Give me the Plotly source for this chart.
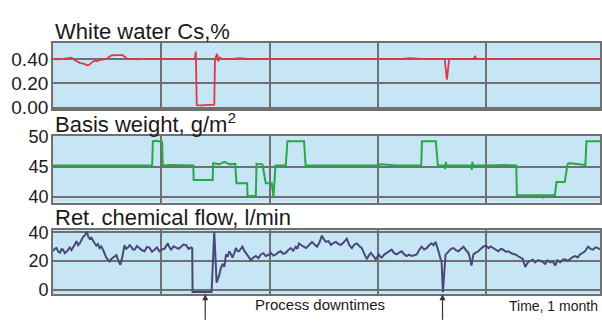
import plotly.graph_objects as go

# ---------------- data (time in days over one month) ----------------
# White water consistency, %
cs_points = [
    (0.0, 0.40), (0.3, 0.395), (0.6, 0.40), (0.9, 0.405), (1.05, 0.41), (1.2, 0.39),
    (1.35, 0.375), (1.49, 0.367), (1.7, 0.36), (1.93, 0.346), (2.05, 0.355), (2.21, 0.377),
    (2.35, 0.385), (2.45, 0.38), (2.59, 0.39), (2.75, 0.395), (2.98, 0.40), (3.1, 0.415),
    (3.26, 0.428), (3.5, 0.43), (3.7, 0.428), (3.86, 0.43), (4.0, 0.415), (4.14, 0.398),
    (4.4, 0.40), (4.7, 0.395), (5.0, 0.40), (5.3, 0.40), (5.6, 0.398), (5.9, 0.40),
    (6.2, 0.40), (6.5, 0.398), (6.8, 0.40), (7.1, 0.40), (7.4, 0.398), (7.7, 0.40),
    (7.86, 0.40), (7.92, 0.46), (7.97, 0.02), (8.2, 0.018), (8.5, 0.02), (8.94, 0.025),
    (8.98, 0.40), (9.1, 0.44), (9.16, 0.38), (9.25, 0.41), (9.35, 0.40), (9.7, 0.398),
    (10.0, 0.40), (10.3, 0.405), (10.6, 0.40), (11.0, 0.398), (11.4, 0.40), (11.8, 0.40),
    (12.2, 0.398), (12.6, 0.40), (13.0, 0.40), (13.4, 0.398), (13.8, 0.40), (14.2, 0.402),
    (14.6, 0.40), (15.0, 0.398), (15.4, 0.40), (15.8, 0.40), (16.2, 0.398), (16.6, 0.40),
    (17.0, 0.40), (17.4, 0.398), (17.8, 0.40), (18.2, 0.40), (18.6, 0.398), (19.0, 0.40),
    (19.4, 0.40), (19.8, 0.405), (20.2, 0.40), (20.6, 0.398), (21.0, 0.40), (21.4, 0.40),
    (21.7, 0.40), (21.82, 0.23), (21.95, 0.40), (22.3, 0.40), (22.7, 0.398), (23.1, 0.40),
    (23.3, 0.40), (23.38, 0.418), (23.46, 0.40), (23.9, 0.40), (24.3, 0.398), (24.7, 0.40),
    (25.1, 0.40), (25.5, 0.398), (25.9, 0.40), (26.3, 0.40), (26.7, 0.398), (27.1, 0.40),
    (27.5, 0.40), (27.9, 0.398), (28.3, 0.40), (28.7, 0.40), (29.1, 0.398), (29.5, 0.40),
    (29.9, 0.40), (30.3, 0.40),
]

# Basis weight, g/m2
bw_points = [
    (0.0, 45.2), (1.4, 45.2), (2.6, 45.3), (3.6, 45.25), (4.4, 45.2), (5.5, 45.2),
    (5.54, 49.2), (5.7, 49.3), (6.05, 49.1), (6.09, 45.2), (6.6, 45.3), (7.3, 45.2),
    (7.78, 45.2), (7.8, 42.8), (8.85, 42.8), (8.88, 45.6), (9.2, 45.4), (9.5, 45.8),
    (9.8, 45.4), (10.1, 45.5), (10.17, 42.3), (10.76, 42.3), (10.78, 40.2), (11.24, 40.2),
    (11.28, 45.5), (11.61, 45.4), (11.79, 42.3), (12.12, 42.3), (12.22, 40.1), (12.33, 45.2),
    (12.9, 45.2), (12.99, 49.2), (13.91, 49.2), (14.0, 45.2), (15.5, 45.2), (16.9, 45.3),
    (17.9, 45.2), (18.2, 45.4), (19.0, 45.2), (20.4, 45.2), (20.44, 49.2), (21.21, 49.2),
    (21.32, 45.2), (21.7, 45.2), (21.73, 44.6), (21.76, 45.8), (21.8, 45.2), (23.15, 45.2),
    (23.2, 44.5), (23.23, 45.8), (23.28, 45.2), (24.0, 45.2), (25.0, 45.3), (25.66, 45.2),
    (25.7, 40.3), (27.1, 40.3), (27.15, 39.8), (27.2, 40.3), (27.8, 40.3), (27.89, 42.5),
    (28.35, 42.5), (28.5, 45.4), (28.6, 45.6), (29.49, 45.3), (29.55, 49.2), (30.3, 49.2),
]

# Retention chemical flow, l/min
flow_points = [
    (0.0, 26.8), (0.1, 28.5), (0.2, 29.0), (0.3, 26.5), (0.39, 25.7), (0.48, 28.2),
    (0.57, 27.9), (0.66, 25.5), (0.76, 26.4), (0.85, 28.0), (0.94, 29.4), (1.03, 27.6),
    (1.12, 30.0), (1.22, 31.5), (1.31, 33.8), (1.4, 31.0), (1.49, 32.3), (1.58, 35.0),
    (1.67, 36.6), (1.78, 38.0), (1.89, 40.3), (1.96, 37.0), (2.04, 35.5), (2.13, 36.2),
    (2.22, 33.8), (2.31, 32.5), (2.41, 30.7), (2.5, 31.8), (2.59, 29.0), (2.68, 30.2),
    (2.78, 27.9), (2.87, 25.0), (2.96, 22.4), (3.05, 21.0), (3.15, 19.8), (3.24, 21.5),
    (3.33, 22.4), (3.42, 23.5), (3.52, 24.1), (3.59, 21.5), (3.66, 19.8), (3.74, 17.4),
    (3.85, 23.0), (3.97, 31.1), (4.06, 28.5), (4.16, 29.4), (4.25, 31.0), (4.34, 30.0),
    (4.43, 28.2), (4.53, 27.9), (4.66, 30.5), (4.8, 29.0), (4.94, 27.5), (5.08, 26.8),
    (5.21, 29.8), (5.35, 29.4), (5.49, 26.5), (5.63, 27.9), (5.76, 29.5), (5.9, 26.8),
    (6.04, 28.0), (6.18, 28.5), (6.28, 31.0), (6.37, 32.3), (6.46, 29.5), (6.55, 27.9),
    (6.69, 30.2), (6.83, 29.4), (6.96, 28.5), (7.1, 30.0), (7.24, 31.5), (7.38, 31.1),
    (7.52, 28.5), (7.65, 29.4), (7.72, 28.8), (7.74, -1.5), (8.79, -1.5), (8.94, 40.3),
    (9.07, 4.9), (9.15, 8.0), (9.22, 10.4), (9.3, 15.0), (9.4, 18.0), (9.5, 16.0),
    (9.59, 24.6), (9.68, 23.0), (9.77, 26.8), (9.86, 25.0), (9.95, 22.4), (10.05, 25.5),
    (10.14, 29.0), (10.23, 27.0), (10.32, 26.8), (10.41, 28.5), (10.5, 30.0), (10.6, 27.2),
    (10.69, 25.7), (10.83, 23.0), (10.97, 20.7), (11.1, 22.5), (11.24, 23.5), (11.38, 22.0),
    (11.52, 24.6), (11.66, 25.5), (11.79, 23.5), (11.93, 24.2), (12.07, 25.7), (12.21, 23.8),
    (12.35, 24.6), (12.49, 26.0), (12.62, 26.8), (12.76, 25.0), (12.9, 25.7), (13.03, 27.5),
    (13.17, 29.0), (13.31, 27.2), (13.45, 30.0), (13.54, 28.5), (13.63, 32.3), (13.82, 30.5),
    (14.02, 29.0), (14.18, 31.0), (14.35, 33.3), (14.49, 31.5), (14.63, 30.0), (14.77, 33.0),
    (14.9, 37.7), (15.01, 35.0), (15.12, 33.3), (15.26, 34.0), (15.4, 31.1), (15.53, 32.5),
    (15.67, 33.3), (15.81, 32.0), (15.95, 31.1), (16.11, 33.0), (16.28, 35.5), (16.42, 31.0),
    (16.56, 29.0), (16.7, 31.5), (16.83, 32.3), (16.97, 30.5), (17.11, 29.0), (17.25, 25.0),
    (17.39, 21.3), (17.5, 24.0), (17.61, 25.7), (17.75, 23.5), (17.88, 21.3), (17.97, 23.0),
    (18.05, 24.6), (18.13, 23.2), (18.21, 22.4), (18.35, 24.5), (18.49, 25.7), (18.62, 26.5),
    (18.76, 27.9), (18.9, 25.5), (19.04, 24.6), (19.18, 25.8), (19.32, 26.8), (19.45, 24.8),
    (19.59, 23.5), (19.73, 24.5), (19.87, 23.5), (20.01, 24.0), (20.15, 24.6), (20.28, 27.5),
    (20.42, 30.0), (20.56, 28.0), (20.7, 29.0), (20.83, 30.8), (20.97, 32.3), (21.08, 31.0),
    (21.19, 33.3), (21.28, 30.0), (21.36, 26.8), (21.45, 23.0), (21.53, 19.1), (21.6, -1.6),
    (21.68, 12.0), (21.75, 24.6), (21.83, 25.5), (21.91, 26.8), (22.05, 28.5), (22.19, 29.0),
    (22.32, 27.5), (22.46, 26.8), (22.6, 28.5), (22.74, 30.0), (22.88, 27.5), (23.01, 25.7),
    (23.1, 22.0), (23.18, 16.9), (23.24, 21.0), (23.29, 24.6), (23.42, 25.8), (23.56, 26.8),
    (23.7, 28.5), (23.84, 30.0), (23.98, 30.8), (24.12, 29.0), (24.25, 30.2), (24.39, 29.0),
    (24.53, 27.5), (24.67, 26.8), (24.81, 28.5), (24.95, 27.9), (25.08, 26.5), (25.22, 26.8),
    (25.42, 25.2), (25.61, 24.6), (25.75, 23.5), (25.88, 22.4), (26.02, 21.5), (26.16, 15.9),
    (26.3, 19.0), (26.44, 20.2), (26.58, 21.0), (26.71, 19.1), (26.85, 20.5), (26.99, 20.2),
    (27.12, 19.5), (27.26, 18.0), (27.4, 20.5), (27.54, 19.1), (27.68, 19.8), (27.82, 16.9),
    (27.95, 20.5), (28.09, 19.1), (28.23, 21.0), (28.37, 21.3), (28.5, 20.2), (28.64, 21.3),
    (28.78, 22.8), (28.92, 23.5), (29.06, 22.5), (29.2, 24.6), (29.33, 25.5), (29.47, 26.8),
    (29.56, 28.5), (29.64, 30.0), (29.78, 28.5), (29.91, 27.9), (30.05, 29.5), (30.19, 29.0),
    (30.3, 28.0),
]

downtimes = [8.44, 21.58]

titles = ["White water Cs,%", "Basis weight, g/m<sup>2</sup>", "Ret. chemical flow, l/min"]
cs_ticks = [0.0, 0.2, 0.4]
cs_ticktext = ["0.00", "0.20", "0.40"]
bw_ticks = [40, 45, 50]
flow_ticks = [0, 20, 40]
time_grid = [6, 12, 18, 24]

# ---------------- styling ----------------
W, H = 602, 323
LEFT = 53
BG = "#c6e6f6"
GRID = "#707070"
FONT = "Liberation Sans, Arial, sans-serif"
TXT = "#1a1a1a"

def ydom(top_px, bot_px):
    return [1 - bot_px / H, 1 - top_px / H]

fig = go.Figure()
fig.add_trace(go.Scatter(x=[p[0] for p in cs_points], y=[p[1] for p in cs_points],
                         mode="lines", line=dict(color="#e2354a", width=1.8),
                         xaxis="x", yaxis="y"))
fig.add_trace(go.Scatter(x=[p[0] for p in bw_points], y=[p[1] for p in bw_points],
                         mode="lines", line=dict(color="#27a844", width=2),
                         xaxis="x2", yaxis="y2"))
fig.add_trace(go.Scatter(x=[p[0] for p in flow_points], y=[p[1] for p in flow_points],
                         mode="lines", line=dict(color="#4a4878", width=2),
                         xaxis="x3", yaxis="y3"))

xcommon = dict(domain=[LEFT / W, 1], range=[0, 30.3], tickvals=time_grid,
               showticklabels=False, showgrid=True, gridcolor=GRID, gridwidth=1.5,
               showline=True, mirror=True, linecolor=GRID, linewidth=1.5,
               zeroline=False, ticks="", fixedrange=True)
ycommon = dict(showgrid=True, gridcolor=GRID, gridwidth=1.5, showline=True, mirror=True,
               linecolor=GRID, linewidth=1.5, zeroline=False, ticks="",
               ticklabelstandoff=-1, fixedrange=True)

fig.update_layout(
    width=W, height=H, margin=dict(l=0, r=0, t=0, b=0),
    paper_bgcolor="white", plot_bgcolor=BG, showlegend=False,
    font=dict(family=FONT, color=TXT),
    xaxis=dict(xcommon, anchor="y"),
    xaxis2=dict(xcommon, anchor="y2"),
    xaxis3=dict(xcommon, anchor="y3"),
    yaxis=dict(ycommon, domain=ydom(36, 106), range=[-0.012, 0.53], tickvals=cs_ticks,
               ticktext=cs_ticktext, tickfont=dict(size=19, family=FONT, color=TXT),
               anchor="x"),
    yaxis2=dict(ycommon, domain=ydom(134, 205), range=[39.1, 50.15], tickvals=bw_ticks,
                tickfont=dict(size=18, family=FONT, color=TXT), anchor="x2"),
    yaxis3=dict(ycommon, domain=ydom(234, 302), range=[-3, 41.6], tickvals=flow_ticks,
                tickfont=dict(size=18, family=FONT, color=TXT), anchor="x3"),
)

title_y = [24, 121, 221]
for t, yp in zip(titles, title_y):
    fig.add_annotation(text=t, xref="paper", yref="paper", x=LEFT / W, y=1 - yp / H,
                       xanchor="left", yanchor="middle", showarrow=False,
                       font=dict(size=22, family=FONT, color=TXT))

for d in downtimes:
    fig.add_annotation(x=d, xref="x3", y=1 - 302 / H, yref="paper", text="",
                       showarrow=True, ax=0, ay=27, arrowhead=2, arrowsize=1,
                       arrowwidth=1.2, arrowcolor="#333")

fig.add_annotation(text="Process downtimes", xref="paper", yref="paper",
                   x=321 / W, y=1 - 313 / H, xanchor="center", yanchor="middle",
                   showarrow=False, font=dict(size=15, family=FONT, color=TXT))
fig.add_annotation(text="Time, 1 month", xref="paper", yref="paper",
                   x=509 / W, y=1 - 315 / H, xanchor="left", yanchor="middle",
                   showarrow=False, font=dict(size=14, family=FONT, color=TXT))

fig.write_html("out.html")
